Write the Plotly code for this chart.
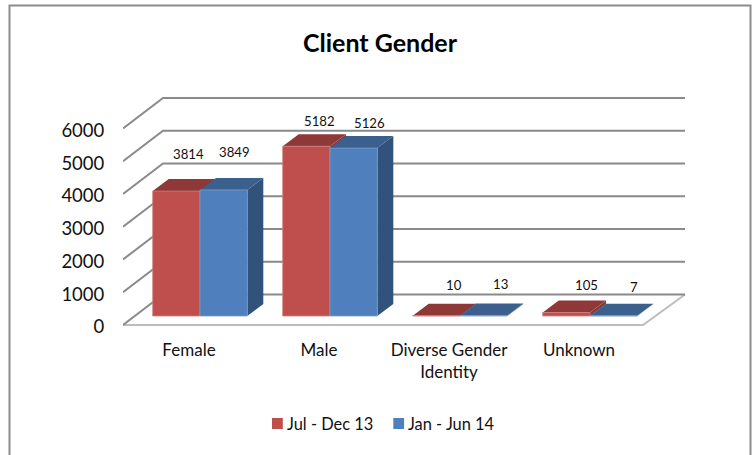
import plotly.graph_objects as go

categories = ["Female", "Male", "Diverse Gender<br>Identity", "Unknown"]
jul_dec_13 = [3814, 5182, 10, 105]
jan_jun_14 = [3849, 5126, 13, 7]
y_ticks = [0, 1000, 2000, 3000, 4000, 5000, 6000]
series_names = ["Jul - Dec 13", "Jan - Jun 14"]

W, H = 755, 455
L, R, T, B = 123, 700, 90, 338     # plot-area pixel box
PX_X = 130.0                       # pixels per category
PX_Y = 196.5 / 6000                # pixels per value unit
X0_PX, Y0_PX = 200.0, 325.0        # where x=0 and y=0 fall

def dx(p): return p / PX_X
def dy(p): return p / PX_Y

BAR_W = dx(47.3)
BASE = dy(9)                       # bars stand inset on the floor
DEPTH_X, DEPTH_Y = dx(16), dy(12)  # bar depth
WALL_X, WALL_Y = dx(40), dy(30.5)  # wall depth
LEFT = (123 - X0_PX) / PX_X
RIGHT_BACK = (685 - X0_PX) / PX_X
RIGHT_FRONT = (643 - X0_PX) / PX_X

xs = list(range(len(categories)))
COL = [dict(front="#BE4F4C", top="#8E3837", side="#8E3837", edge="#CF7F7C"),
       dict(front="#4F80BD", top="#3B608E", side="#31527B", edge="#7F9CC4")]

def poly(points, fill, line=None, width=0, layer="below"):
    path = "M" + "L".join(f"{x:.4f},{y:.2f}" for x, y in points) + "Z"
    return dict(type="path", xref="x", yref="y", path=path, fillcolor=fill, layer=layer,
                line=dict(color=line or fill, width=width))

def seg(points, color, width):
    path = "M" + "L".join(f"{x:.4f},{y:.2f}" for x, y in points)
    return dict(type="path", xref="x", yref="y", path=path, layer="below",
                line=dict(color=color, width=width))

shapes = []
# floor
shapes.append(poly([(LEFT, 0), (LEFT + WALL_X, WALL_Y), (RIGHT_BACK, WALL_Y), (RIGHT_FRONT, 0)], "#FFFFFF"))
shapes.append(seg([(LEFT, 0), (RIGHT_FRONT, 0), (RIGHT_BACK, WALL_Y)], "#BDBDBD", 2))
# gridlines on the side and back walls
for t in y_ticks:
    shapes.append(seg([(LEFT, t), (LEFT + WALL_X, t + WALL_Y), (RIGHT_BACK, t + WALL_Y)], "#8A8A8A", 2))

# bar tops and sides, behind the fronts
for i in xs:
    for s, vals in enumerate((jul_dec_13, jan_jun_14)):
        x1 = i - BAR_W + s * BAR_W
        x2 = x1 + BAR_W
        top = vals[i] + BASE
        shapes.append(poly([(x2, BASE), (x2 + DEPTH_X, BASE + DEPTH_Y), (x2 + DEPTH_X, top + DEPTH_Y), (x2, top)],
                           COL[s]["side"]))
        shapes.append(poly([(x1, top), (x1 + DEPTH_X, top + DEPTH_Y), (x2 + DEPTH_X, top + DEPTH_Y), (x2, top)],
                           COL[s]["top"]))

# outer frame (paper coordinates)
pw, ph = R - L, B - T
def px_x(p): return (p - L) / pw
def px_y(p): return (B - p) / ph

shapes.append(dict(type="rect", xref="paper", yref="paper",
                   x0=px_x(9.5), x1=px_x(750.5), y0=px_y(470), y1=px_y(5.5),
                   line=dict(color="#8C8C8C", width=2), fillcolor="rgba(0,0,0,0)", layer="below"))

fig = go.Figure()
for s, vals in enumerate((jul_dec_13, jan_jun_14)):
    fig.add_trace(go.Bar(x=xs, y=vals, base=BASE, name=series_names[s], showlegend=False,
                         marker=dict(color=COL[s]["front"], line=dict(color=COL[s]["edge"], width=0.8)),
                         hoverinfo="skip"))

# value labels: hand-placed in the original, so each has its own offset from its bar
label_lift = [[37, 25, 31, 28], [38, 25, 32, 29]]
label_nudge = [[12, 13, 18, 20], [11, 16, 17, 20]]
annotations = []
for s, vals in enumerate((jul_dec_13, jan_jun_14)):
    for i in xs:
        annotations.append(dict(x=i - BAR_W / 2 + s * BAR_W + dx(label_nudge[s][i]),
                                y=vals[i] + BASE, yshift=label_lift[s][i], text=str(vals[i]),
                                showarrow=False, xanchor="center", yanchor="middle",
                                font=dict(family="Lato", size=13.2, color="#111111")))

# key: small squares sitting tight against their text, as in the original
key_swatch_left = [272, 393.3]
key_text_left = [286.7, 407.7]
KEY_Y = 423.5
for s, name in enumerate(series_names):
    shapes.append(dict(type="rect", xref="paper", yref="paper",
                       x0=px_x(key_swatch_left[s]), x1=px_x(key_swatch_left[s] + 10.8),
                       y0=px_y(KEY_Y + 5.5), y1=px_y(KEY_Y - 5.5),
                       fillcolor=COL[s]["front"], line=dict(width=0)))
    annotations.append(dict(xref="paper", yref="paper", x=px_x(key_text_left[s] - 2), y=px_y(KEY_Y),
                            text=name, showarrow=False, xanchor="left", yanchor="middle",
                            font=dict(family="Lato", size=16.4, color="#111111")))

fig.update_layout(
    width=W, height=H, autosize=False,
    margin=dict(l=L, r=W - R, t=T, b=H - B, pad=0),
    paper_bgcolor="white", plot_bgcolor="rgba(0,0,0,0)",
    barmode="group", bargap=1 - 2 * BAR_W, bargroupgap=0,
    title=dict(text="<b>Client Gender</b>", x=380 / W, xanchor="center", y=1 - 43 / H, yanchor="middle",
               font=dict(family="Lato", size=25, color="#000000")),
    xaxis=dict(range=[LEFT, (R - X0_PX) / PX_X], tickmode="array",
               tickvals=[i - dx(11) for i in xs], ticktext=categories,
               showgrid=False, zeroline=False, showline=False, ticks="", ticklen=0,
               tickfont=dict(family="Lato", size=17, color="#111111")),
    yaxis=dict(range=[(Y0_PX - B) / PX_Y, (Y0_PX - T) / PX_Y], tickmode="array",
               tickvals=y_ticks, ticktext=[str(t) for t in y_ticks],
               showgrid=False, zeroline=False, showline=False, ticks="outside", ticklen=14,
               tickcolor="rgba(0,0,0,0)", ticklabelshift=2,
               tickfont=dict(family="Lato", size=18.5, color="#111111")),
    shapes=shapes, annotations=annotations, showlegend=False,
)

fig.write_html("out.html", config=dict(displayModeBar=False),
               post_script="document.body.style.margin='0';")
